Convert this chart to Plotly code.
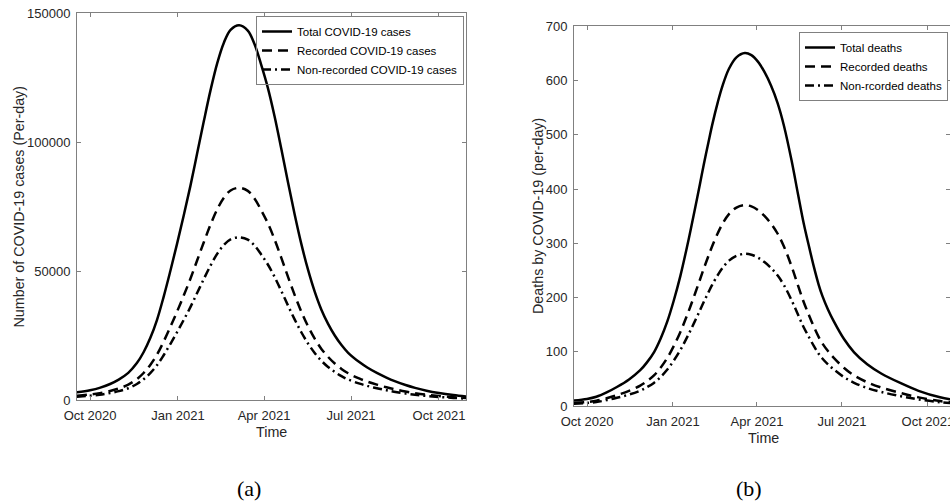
import pandas as pd
import plotly.graph_objects as go

BASE = pd.Timestamp("2020-10-01")

# ---------------- data ----------------
# days since 1 Oct 2020
case_days = [-14, 0, 10, 21, 30, 40, 49, 56, 63, 70, 77, 84, 91, 98, 105, 112, 119, 126,
             133, 140, 147, 156, 165, 172, 179, 186, 193, 200, 207, 214, 221, 228, 235,
             242, 249, 256, 263, 270, 282, 290, 300, 310, 318, 330, 340, 352, 365, 380, 394]
total_cases = [2950, 3800, 4700, 6200, 7900, 10500, 14300, 18500, 24000, 31000, 40000, 50000,
               60500, 71500, 83000, 95500, 108000, 120000, 130500, 138500, 143500, 145300,
               143200, 138000, 130000, 121000, 110000, 97500, 84500, 72000, 60500, 50500,
               42000, 35000, 29500, 25000, 21300, 18300, 14600, 12600, 10500, 8700, 7400,
               5800, 4700, 3600, 2700, 1900, 1300]
recorded_cases = [1670, 2150, 2660, 3510, 4470, 5940, 8090, 10470, 13580, 17550, 22640, 28300,
                  34240, 40470, 46980, 54050, 61130, 67920, 73860, 78390, 81220, 82240,
                  81050, 78110, 73580, 68490, 62260, 55190, 47830, 40750, 34240, 28580,
                  23770, 19810, 16700, 14150, 12060, 10360, 8260, 7130, 5940, 4920, 4190,
                  3280, 2660, 2040, 1530, 1080, 740]
nonrecorded_cases = [1280, 1650, 2040, 2690, 3430, 4560, 6210, 8030, 10420, 13450, 17360, 21700,
                     26260, 31030, 36020, 41450, 46870, 52080, 56640, 60110, 62280, 63060,
                     62150, 59890, 56420, 52510, 47740, 42310, 36670, 31250, 26260, 21920,
                     18230, 15190, 12800, 10850, 9240, 7940, 6340, 5470, 4560, 3780, 3210,
                     2520, 2040, 1560, 1170, 820, 560]

death_days = [-14, 0, 10, 21, 32, 45, 57, 64, 72, 79, 86, 93, 100, 106, 111, 116, 121, 125,
              130, 134, 140, 145, 152, 160, 169, 176, 183, 190, 197, 204, 211, 219, 226, 232,
              238, 243, 248, 252, 258, 264, 275, 286, 300, 315, 336, 355, 378, 394]
total_deaths = [10, 13, 17, 25, 35, 49, 66, 80, 100, 125, 156, 195, 240, 285, 325, 367, 410, 445,
                486, 518, 560, 590, 622, 643, 651, 647, 635, 616, 591, 559, 516, 453, 390, 337,
                292, 256, 224, 203, 178, 157, 124, 99, 77, 60, 42, 28, 16, 11]
recorded_deaths = [5.7, 7.4, 9.7, 14.2, 19.9, 27.9, 37.6, 45.5, 56.9, 71.1, 88.8, 111.0, 136.6,
                   162.2, 184.9, 208.8, 233.3, 253.2, 276.5, 294.7, 318.6, 335.7, 353.9, 365.9,
                   370.4, 368.1, 361.3, 350.5, 336.3, 318.1, 293.6, 257.8, 221.9, 191.8, 166.1,
                   145.7, 127.5, 115.5, 101.3, 89.3, 70.6, 56.3, 43.8, 34.1, 23.9, 15.9, 9.1, 6.3]
nonrecorded_deaths = [4.3, 5.6, 7.3, 10.8, 15.1, 21.1, 28.4, 34.5, 43.1, 53.9, 67.2, 84.0, 103.4,
                      122.8, 140.1, 158.2, 176.7, 191.8, 209.5, 223.3, 241.4, 254.3, 268.1, 277.1,
                      280.6, 278.9, 273.7, 265.5, 254.7, 240.9, 222.4, 195.2, 168.1, 145.2, 125.9,
                      110.3, 96.5, 87.5, 76.7, 67.7, 53.4, 42.7, 33.2, 25.9, 18.1, 12.1, 6.9, 4.7]

tick_dates = ["2020-10-01", "2021-01-01", "2021-04-01", "2021-07-01", "2021-10-01"]
tick_labels = ["Oct 2020", "Jan 2021", "Apr 2021", "Jul 2021", "Oct 2021"]
case_yticks = [0, 50000, 100000, 150000]
death_yticks = [0, 100, 200, 300, 400, 500, 600, 700]

case_names = ["Total COVID-19 cases", "Recorded COVID-19 cases", "Non-recorded COVID-19 cases"]
death_names = ["Total deaths", "Recorded deaths", "Non-rcorded deaths"]

# ---------------- figure ----------------
W, H = 950, 502
case_dates = [BASE + pd.Timedelta(days=d) for d in case_days]
death_dates = [BASE + pd.Timedelta(days=d) for d in death_days]

dashes = ["solid", "10px,6px", "9px,4px,2px,4px"]
LW = 2.5

fig = go.Figure()
for name, ys, dash in zip(case_names, [total_cases, recorded_cases, nonrecorded_cases], dashes):
    fig.add_trace(go.Scatter(x=case_dates, y=ys, name=name, mode="lines",
                             line=dict(color="black", width=LW, dash=dash, shape="spline"),
                             xaxis="x", yaxis="y", legend="legend"))
for name, ys, dash in zip(death_names, [total_deaths, recorded_deaths, nonrecorded_deaths], dashes):
    fig.add_trace(go.Scatter(x=death_dates, y=ys, name=name, mode="lines",
                             line=dict(color="black", width=LW, dash=dash, shape="spline"),
                             xaxis="x2", yaxis="y2", legend="legend2"))

AX = "#808080"
TXT = "#262626"
FONT = "Liberation Sans, Arial, sans-serif"

def xax(domain, rng, anchor):
    return dict(domain=domain, range=rng, anchor=anchor, type="date",
                tickvals=tick_dates, ticktext=tick_labels, automargin=False,
                ticks="inside", ticklen=4, tickcolor=AX, showline=True, linecolor=AX,
                linewidth=1, mirror="ticks", showgrid=False, zeroline=False,
                ticklabelstandoff=3, ticklabeloverflow="allow",
                tickfont=dict(family=FONT, size=13, color=TXT))

def yax(domain, rng, ticks, anchor):
    return dict(domain=domain, range=rng, anchor=anchor, tickvals=ticks, tickformat="d",
                automargin=False,
                ticks="inside", ticklen=4, tickcolor=AX, showline=True, linecolor=AX,
                linewidth=1, mirror="ticks", showgrid=False, zeroline=False,
                ticklabelstandoff=3, ticklabeloverflow="allow",
                tickfont=dict(family=FONT, size=13, color=TXT))

TITLE_FONT = dict(family=FONT, size=14.3, color=TXT)

def ann(text, x, y, angle=0, font=TITLE_FONT):
    return dict(text=text, x=x / W, y=1 - y / H, xref="paper", yref="paper",
                xanchor="center", yanchor="middle", showarrow=False,
                textangle=angle, font=font)

LEG_BG = "rgba(255,255,255,0)"

fig.update_layout(
    width=W, height=H, margin=dict(l=0, r=0, t=0, b=0, autoexpand=False),
    paper_bgcolor="white", plot_bgcolor="white", showlegend=True,
    xaxis=xax([77 / W, 466 / W], ["2020-09-17 09:00", "2021-10-29 06:00"], "y"),
    yaxis=yax([1 - 400 / H, 1 - 13 / H], [0, 150000], case_yticks, "x"),
    xaxis2=xax([574 / W, 1.0], ["2020-09-17 02:00", "2021-10-24 16:00"], "y2"),
    yaxis2=yax([1 - 406 / H, 1 - 26.4 / H], [0, 700], death_yticks, "x2"),
    legend=dict(x=464 / W, xanchor="right", y=1 - 16 / H, yanchor="top",
                bordercolor=AX, borderwidth=1, bgcolor=LEG_BG, tracegroupgap=0,
                font=dict(family=FONT, size=11.5, color="black")),
    legend2=dict(x=948 / W, xanchor="right", y=1 - 32 / H, yanchor="top",
                 bordercolor=AX, borderwidth=1, bgcolor="white", tracegroupgap=0,
                 font=dict(family=FONT, size=11.5, color="black")),
    annotations=[
        ann("Number of COVID-19 cases (Per-day)", 18, 206.5, -90),
        ann("Time", 271.5, 432),
        ann("Deaths by COVID-19 (per-day)", 538, 216, -90),
        ann("Time", 763, 438),
        ann("(a)", 249, 488, 0, dict(family="Liberation Serif, serif", size=22, color="black")),
        ann("(b)", 749, 488, 0, dict(family="Liberation Serif, serif", size=22, color="black")),
    ],
)

fig.write_html("out.html", config={"displayModeBar": False},
               post_script="document.body.style.margin='0';document.body.style.overflow='hidden';")
